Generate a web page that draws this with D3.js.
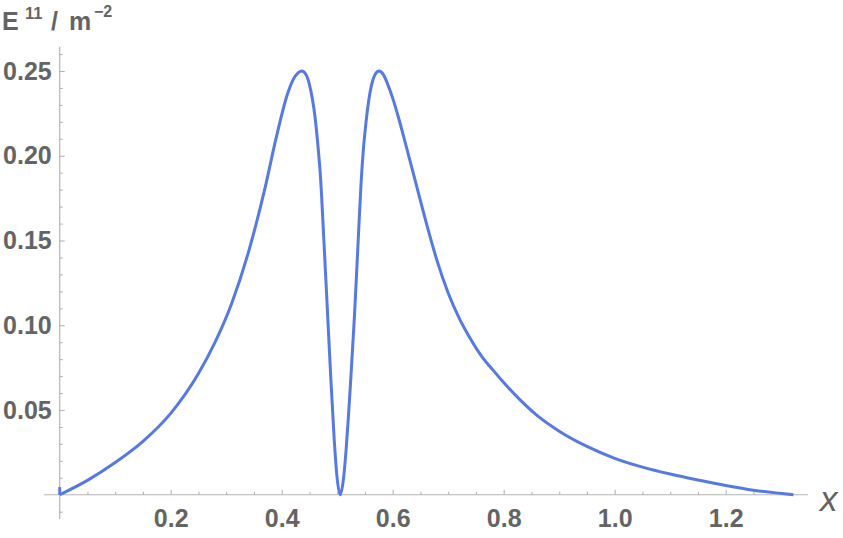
<!DOCTYPE html>
<html>
<head>
<meta charset="utf-8">
<script src="https://cdn.jsdelivr.net/npm/d3@7"></script>
<style>
  html, body { margin: 0; padding: 0; background: #fff; }
  svg { display: block; font-family: "Liberation Sans", Arial, sans-serif; }
</style>
</head>
<body>
<svg id="chart" width="843" height="538"></svg>
<script>
// ---- data ----
const xValues = [0, 0.05, 0.10, 0.15, 0.20, 0.25, 0.28, 0.31, 0.34, 0.37, 0.39, 0.41, 0.42, 0.43, 0.436,
  0.444, 0.450, 0.455, 0.460, 0.465, 0.470, 0.476, 0.482, 0.488, 0.494, 0.4995, 0.5055,
  0.5115, 0.516, 0.520, 0.524, 0.531, 0.537, 0.543, 0.547, 0.552, 0.557, 0.562, 0.568, 0.5755,
  0.583, 0.590, 0.600, 0.610, 0.62, 0.64, 0.66, 0.68, 0.70, 0.72, 0.74, 0.76, 0.78, 0.80, 0.83, 0.86, 0.90,
  0.95, 1.00, 1.05, 1.10, 1.15, 1.20, 1.25, 1.322];
const yValues = [0, 0.0085, 0.0190, 0.0315, 0.0480, 0.0715, 0.0900, 0.1130, 0.1430, 0.1810, 0.2105, 0.2360, 0.2445, 0.2490, 0.2500,
  0.2478, 0.2420, 0.2340, 0.2230, 0.2070, 0.1870, 0.1500, 0.1110, 0.0720, 0.0360, 0.0110, 0.0,
  0.0100, 0.0264, 0.0450, 0.0657, 0.1050, 0.1444, 0.1838, 0.2030, 0.2200, 0.2330, 0.2420, 0.2478, 0.2500,
  0.2480, 0.2430, 0.2340, 0.2230, 0.2110, 0.1860, 0.1610, 0.1380, 0.1190, 0.1040, 0.0920, 0.0818, 0.0738, 0.0662, 0.0558, 0.0468, 0.0375,
  0.0285, 0.0215, 0.0163, 0.0122, 0.0087, 0.0055, 0.0027, 0.0];
const stubX = [0, 0];
const stubY = [0.0045, 0];
const xMajorTicks = [0.2, 0.4, 0.6, 0.8, 1.0, 1.2];
const xTickLabels = ["0.2", "0.4", "0.6", "0.8", "1.0", "1.2"];
const yMajorTicks = [0.05, 0.10, 0.15, 0.20, 0.25];
const yTickLabels = ["0.05", "0.10", "0.15", "0.20", "0.25"];
const xMinorTicks = d3.range(1, 27).map(i => i * 0.05).filter(v => !xMajorTicks.some(m => Math.abs(m - v) < 1e-9));
const yMinorTicks = d3.range(-1, 27).map(i => i * 0.01).filter(v => Math.abs(v) > 1e-9 && !yMajorTicks.some(m => Math.abs(m - v) < 1e-9));
const xDomainExtent = [-0.0285, 1.348];
const yDomainExtent = [-0.0143, 0.2643];

// ---- layout ----
const svg = d3.select("#chart");
const x = d3.scaleLinear().domain([0, 1.2]).range([59.7, 725.7]);
const y = d3.scaleLinear().domain([0, 0.25]).range([494.75, 71]);
const axisColor = "#b4b4b4";
const textColor = "#646464";
const lineColor = "#5679e2";

// axis lines
svg.append("line")
  .attr("x1", x(xDomainExtent[0])).attr("x2", x(xDomainExtent[1]))
  .attr("y1", y(0)).attr("y2", y(0))
  .attr("stroke", axisColor).attr("stroke-width", 1.2);
svg.append("line")
  .attr("x1", x(0)).attr("x2", x(0))
  .attr("y1", y(yDomainExtent[0])).attr("y2", y(yDomainExtent[1]))
  .attr("stroke", axisColor).attr("stroke-width", 1.2);

// x axis minor ticks
const gxMinor = svg.append("g").attr("transform", `translate(0,${y(0)})`)
  .call(d3.axisBottom(x).tickValues(xMinorTicks).tickSize(-3).tickFormat(""));
// x axis major ticks + labels
const gx = svg.append("g").attr("transform", `translate(0,${y(0)})`)
  .call(d3.axisBottom(x).tickValues(xMajorTicks).tickSize(-5).tickPadding(14)
    .tickFormat((d, i) => xTickLabels[i]));
// y axis minor ticks
const gyMinor = svg.append("g").attr("transform", `translate(${x(0)},0)`)
  .call(d3.axisLeft(y).tickValues(yMinorTicks).tickSize(-3).tickFormat(""));
// y axis major ticks + labels
const gy = svg.append("g").attr("transform", `translate(${x(0)},0)`)
  .call(d3.axisLeft(y).tickValues(yMajorTicks).tickSize(-5).tickPadding(8)
    .tickFormat((d, i) => yTickLabels[i]));

[gxMinor, gx, gyMinor, gy].forEach(g => {
  g.select(".domain").remove();
  g.selectAll(".tick line").attr("stroke", axisColor).attr("stroke-width", 1.1);
  g.selectAll(".tick text")
    .attr("fill", textColor)
    .attr("font-family", "'Liberation Sans', Arial, sans-serif")
    .attr("font-weight", "bold")
    .attr("font-size", 25);
});

// curve
const line = d3.line().x(d => x(d[0])).y(d => y(d[1])).curve(d3.curveMonotoneX);
const pts = xValues.map((v, i) => [v, yValues[i]]);
svg.append("path").datum(pts)
  .attr("d", line)
  .attr("fill", "none").attr("stroke", lineColor).attr("stroke-width", 3)
  .attr("stroke-linejoin", "round").attr("stroke-linecap", "butt");
svg.append("path").datum(stubX.map((v, i) => [v, stubY[i]]))
  .attr("d", d3.line().x(d => x(d[0])).y(d => y(d[1])))
  .attr("fill", "none").attr("stroke", lineColor).attr("stroke-width", 3);

// axis labels
const lab = svg.append("g").attr("fill", textColor).attr("font-weight", "bold")
  .attr("font-family", "'Liberation Sans', Arial, sans-serif");
lab.append("text").attr("x", 2).attr("y", 30).attr("font-size", 25).text("E");
lab.append("text").attr("x", 25).attr("y", 19).attr("font-size", 16.5).text("11");
lab.append("text").attr("x", 51).attr("y", 30).attr("font-size", 25).text("/");
lab.append("text").attr("x", 69).attr("y", 30).attr("font-size", 25).text("m");
lab.append("text").attr("x", 94).attr("y", 17).attr("font-size", 16).text("\u22122");

svg.append("text").attr("x", 820).attr("y", 510.5)
  .attr("fill", textColor)
  .attr("font-family", "'Liberation Sans', Arial, sans-serif")
  .attr("font-style", "italic")
  .attr("font-size", 35)
  .text("x");
</script>
</body>
</html>
